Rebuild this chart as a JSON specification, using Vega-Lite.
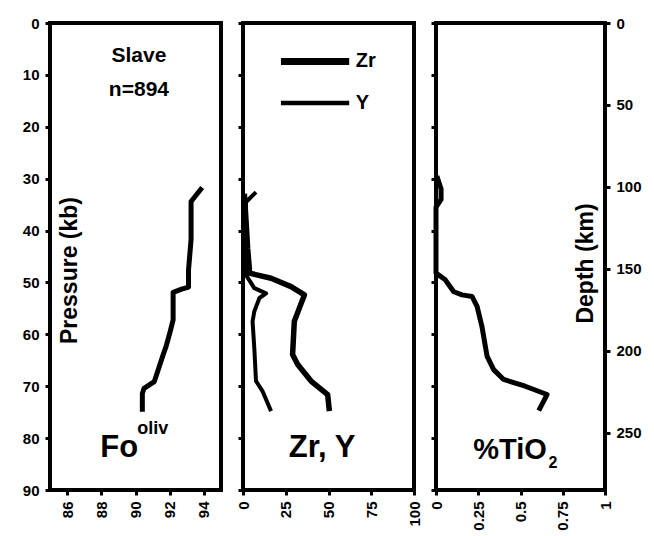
{
  "$schema": "https://vega.github.io/schema/vega-lite/v6.json",
  "background": "white",
  "padding": {"left": 20, "top": 14, "right": 5, "bottom": 0},
  "spacing": 22,
  "bounds": "flush",
  "config": {
    "view": {"stroke": "black", "strokeWidth": 4},
    "font": "Liberation Sans",
    "axis": {
      "domain": false, "grid": false, "ticks": true, "tickColor": "black", "tickSize": 5, "tickWidth": 3,
      "labelFont": "Liberation Sans", "labelFontWeight": "bold", "labelFontSize": 15, "labelColor": "black", "labelPadding": 6,
      "titleFont": "Liberation Sans", "titleFontWeight": "bold", "titleFontSize": 23, "titleColor": "black"
    },
    "text": {"font": "Liberation Sans", "fontWeight": "bold", "color": "black"}
  },
  "datasets": {
    "fo": [
      {"Fo": 93.9, "P": 31.7}, {"Fo": 93.25, "P": 34.4}, {"Fo": 93.25, "P": 41.7}, {"Fo": 93.1, "P": 47.6},
      {"Fo": 93.1, "P": 50.9}, {"Fo": 92.7, "P": 51.3}, {"Fo": 92.2, "P": 51.9}, {"Fo": 92.2, "P": 57.2},
      {"Fo": 92.0, "P": 59.8}, {"Fo": 91.8, "P": 62.2}, {"Fo": 91.6, "P": 64.1}, {"Fo": 91.3, "P": 67.1},
      {"Fo": 91.1, "P": 69.1}, {"Fo": 90.5, "P": 70.4}, {"Fo": 90.4, "P": 71.4}, {"Fo": 90.4, "P": 74.9}
    ],
    "zry": [
      {"series": "Zr", "ppm": 0.8, "P": 32.9}, {"series": "Zr", "ppm": 1.8, "P": 38.3}, {"series": "Zr", "ppm": 2.7, "P": 43.4},
      {"series": "Zr", "ppm": 3.7, "P": 47.3}, {"series": "Zr", "ppm": 3.7, "P": 48.2}, {"series": "Zr", "ppm": 16.4, "P": 49.2},
      {"series": "Zr", "ppm": 28.1, "P": 50.8}, {"series": "Zr", "ppm": 35.9, "P": 52.4}, {"series": "Zr", "ppm": 32.9, "P": 55},
      {"series": "Zr", "ppm": 30, "P": 57.5}, {"series": "Zr", "ppm": 29, "P": 63.9}, {"series": "Zr", "ppm": 32, "P": 65.8},
      {"series": "Zr", "ppm": 39.8, "P": 69}, {"series": "Zr", "ppm": 49.5, "P": 71.6}, {"series": "Zr", "ppm": 50.5, "P": 74.8},
      {"series": "Y", "ppm": 7.6, "P": 32.6}, {"series": "Y", "ppm": 1.8, "P": 34.5}, {"series": "Y", "ppm": 1.2, "P": 38.3},
      {"series": "Y", "ppm": 1.4, "P": 44.7}, {"series": "Y", "ppm": 1.8, "P": 48.6}, {"series": "Y", "ppm": 6.6, "P": 51.1},
      {"series": "Y", "ppm": 13.5, "P": 52.1}, {"series": "Y", "ppm": 9.6, "P": 53}, {"series": "Y", "ppm": 6.6, "P": 55.6},
      {"series": "Y", "ppm": 5.6, "P": 57.5}, {"series": "Y", "ppm": 6.6, "P": 62.6}, {"series": "Y", "ppm": 7.6, "P": 69},
      {"series": "Y", "ppm": 11.5, "P": 71}, {"series": "Y", "ppm": 16.4, "P": 74.8}
    ],
    "tio2": [
      {"TiO2": 0.005, "P": 29.5}, {"TiO2": 0.03, "P": 32}, {"TiO2": 0.03, "P": 34}, {"TiO2": 0.0, "P": 35.5},
      {"TiO2": 0.0, "P": 48.2}, {"TiO2": 0.055, "P": 49.5}, {"TiO2": 0.105, "P": 51.8}, {"TiO2": 0.154, "P": 52.4},
      {"TiO2": 0.213, "P": 52.7}, {"TiO2": 0.243, "P": 54.6}, {"TiO2": 0.272, "P": 58.5}, {"TiO2": 0.302, "P": 64.2},
      {"TiO2": 0.341, "P": 66.8}, {"TiO2": 0.4, "P": 68.7}, {"TiO2": 0.528, "P": 70}, {"TiO2": 0.657, "P": 71.6},
      {"TiO2": 0.608, "P": 74.7}
    ],
    "one": [{}]
  },
  "hconcat": [
    {
      "width": 171, "height": 467,
      "layer": [
        {
          "data": {"name": "fo"},
          "mark": {"type": "line", "color": "black", "strokeWidth": 5, "strokeJoin": "round"},
          "encoding": {
            "x": {"field": "Fo", "type": "quantitative", "scale": {"domain": [85, 95], "nice": false, "zero": false},
                  "axis": {"values": [86, 88, 90, 92, 94], "labelAngle": 270, "title": null}},
            "y": {"field": "P", "type": "quantitative", "scale": {"domain": [0, 90], "reverse": true, "nice": false, "zero": false},
                  "axis": {"values": [0, 10, 20, 30, 40, 50, 60, 70, 80, 90], "title": "Pressure (kb)", "titleAngle": 270,
                           "titleX": 19, "titleY": 247, "titleBaseline": "middle", "titleAlign": "center"}},
            "order": {"field": "P", "type": "quantitative"}
          }
        },
        {"data": {"name": "one"}, "mark": {"type": "text", "fontSize": 21, "align": "center", "baseline": "middle"},
         "encoding": {"x": {"datum": 90.2, "type": "quantitative"}, "y": {"datum": 6.4, "type": "quantitative"}, "text": {"value": "Slave"}}},
        {"data": {"name": "one"}, "mark": {"type": "text", "fontSize": 21, "align": "center", "baseline": "middle"},
         "encoding": {"x": {"datum": 90.2, "type": "quantitative"}, "y": {"datum": 13, "type": "quantitative"}, "text": {"value": "n=894"}}},
        {"data": {"name": "one"}, "mark": {"type": "text", "fontSize": 31, "align": "left", "baseline": "alphabetic"},
         "encoding": {"x": {"datum": 87.94, "type": "quantitative"}, "y": {"datum": 83.6, "type": "quantitative"}, "text": {"value": "Fo"}}},
        {"data": {"name": "one"}, "mark": {"type": "text", "fontSize": 18, "align": "left", "baseline": "alphabetic"},
         "encoding": {"x": {"datum": 90.1, "type": "quantitative"}, "y": {"datum": 79.2, "type": "quantitative"}, "text": {"value": "oliv"}}}
      ]
    },
    {
      "width": 171, "height": 467,
      "layer": [
        {
          "data": {"name": "zry"},
          "transform": [{"filter": "datum.series == 'Zr'"}],
          "mark": {"type": "line", "color": "black", "strokeWidth": 5.5, "strokeJoin": "round"},
          "encoding": {
            "x": {"field": "ppm", "type": "quantitative", "scale": {"domain": [0, 100], "nice": false},
                  "axis": {"values": [0, 25, 50, 75, 100], "labelAngle": 270, "title": null}},
            "y": {"field": "P", "type": "quantitative", "scale": {"domain": [0, 90], "reverse": true, "nice": false, "zero": false},
                  "axis": {"values": [0, 10, 20, 30, 40, 50, 60, 70, 80, 90], "labels": false, "title": null}},
            "order": {"field": "P", "type": "quantitative"}
          }
        },
        {
          "data": {"name": "zry"},
          "transform": [{"filter": "datum.series == 'Y'"}],
          "mark": {"type": "line", "color": "black", "strokeWidth": 4, "strokeJoin": "round"},
          "encoding": {
            "x": {"field": "ppm", "type": "quantitative"},
            "y": {"field": "P", "type": "quantitative"},
            "order": {"field": "P", "type": "quantitative"}
          }
        },
        {"data": {"name": "one"}, "mark": {"type": "rule", "color": "black", "strokeWidth": 7},
         "encoding": {"x": {"datum": 22.2, "type": "quantitative"}, "x2": {"datum": 62.1}, "y": {"datum": 7.4, "type": "quantitative"}}},
        {"data": {"name": "one"}, "mark": {"type": "rule", "color": "black", "strokeWidth": 4.5},
         "encoding": {"x": {"datum": 22.2, "type": "quantitative"}, "x2": {"datum": 62.1}, "y": {"datum": 15.4, "type": "quantitative"}}},
        {"data": {"name": "one"}, "mark": {"type": "text", "fontSize": 20, "align": "left", "baseline": "middle"},
         "encoding": {"x": {"datum": 66, "type": "quantitative"}, "y": {"datum": 7.4, "type": "quantitative"}, "text": {"value": "Zr"}}},
        {"data": {"name": "one"}, "mark": {"type": "text", "fontSize": 20, "align": "left", "baseline": "middle"},
         "encoding": {"x": {"datum": 66, "type": "quantitative"}, "y": {"datum": 15.4, "type": "quantitative"}, "text": {"value": "Y"}}},
        {"data": {"name": "one"}, "mark": {"type": "text", "fontSize": 31, "align": "center", "baseline": "alphabetic"},
         "encoding": {"x": {"datum": 46.2, "type": "quantitative"}, "y": {"datum": 83.7, "type": "quantitative"}, "text": {"value": "Zr, Y"}}}
      ]
    },
    {
      "width": 169, "height": 467,
      "layer": [
        {
          "layer": [
            {
              "data": {"name": "tio2"},
              "mark": {"type": "line", "color": "black", "strokeWidth": 5, "strokeJoin": "round"},
              "encoding": {
                "x": {"field": "TiO2", "type": "quantitative", "scale": {"domain": [0, 1], "nice": false},
                      "axis": {"values": [0, 0.25, 0.5, 0.75, 1], "format": ".2~f", "labelAngle": 270, "title": null}},
                "y": {"field": "P", "type": "quantitative", "scale": {"domain": [0, 90], "reverse": true, "nice": false, "zero": false},
                      "axis": {"values": [0, 10, 20, 30, 40, 50, 60, 70, 80, 90], "labels": false, "title": null}},
                "order": {"field": "P", "type": "quantitative"}
              }
            },
            {"data": {"name": "one"}, "mark": {"type": "text", "fontSize": 29, "align": "left", "baseline": "alphabetic"},
             "encoding": {"x": {"datum": 0.22, "type": "quantitative"}, "y": {"datum": 84.0, "type": "quantitative"}, "text": {"value": "%TiO"}}},
            {"data": {"name": "one"}, "mark": {"type": "text", "fontSize": 16, "align": "left", "baseline": "alphabetic"},
             "encoding": {"x": {"datum": 0.665, "type": "quantitative"}, "y": {"datum": 85.8, "type": "quantitative"}, "text": {"value": "2"}}}
          ]
        },
        {
          "data": {"name": "one"},
          "mark": {"type": "rule", "opacity": 0},
          "encoding": {
            "y": {"datum": 0, "type": "quantitative", "scale": {"domain": [0, 285], "reverse": true, "nice": false},
                  "axis": {"orient": "right", "values": [0, 50, 100, 150, 200, 250], "title": "Depth (km)", "titleAngle": 270,
                           "titleX": -20, "titleY": 240, "titleBaseline": "middle", "titleAlign": "center"}}
          }
        }
      ],
      "resolve": {"scale": {"y": "independent"}}
    }
  ]
}
